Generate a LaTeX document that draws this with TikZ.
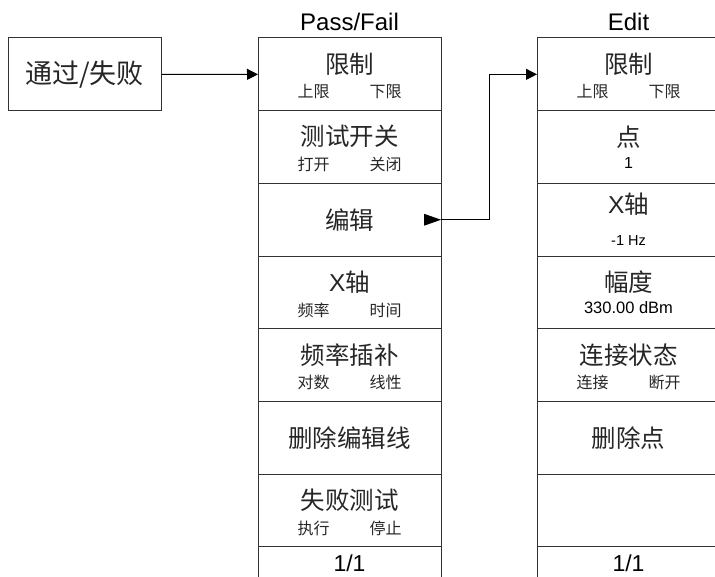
\documentclass[tikz,border=0pt]{standalone}
\usepackage{fontspec}
\setmainfont{Liberation Sans}
\newfontfamily\cjk{Noto Sans CJK SC}
\usetikzlibrary{arrows.meta,calc}
\tikzset{
  cell/.style={draw=black!80, line width=1pt, minimum width=183pt, minimum height=72.7pt, inner sep=0pt, outer sep=0pt, anchor=north west},
  mainlbl/.style={font=\fontsize{24.5}{28}\selectfont\cjk, inner sep=0pt, text=black!85},
  sublbl/.style={font=\fontsize{16}{19}\selectfont\cjk, inner sep=0pt, text=black!85},
  latsub/.style={font=\fontsize{16}{19}\selectfont, inner sep=0pt},
  titlelbl/.style={font=\fontsize{24}{28}\selectfont, inner sep=0pt},
  pagelbl/.style={font=\fontsize{23}{27}\selectfont, inner sep=0pt},
  conn/.style={draw=black, line width=1pt},
  headtip/.style={-{Triangle[length=11pt,width=11pt]}},
}
\begin{document}
\begin{tikzpicture}[x=1pt,y=-1pt]
\useasboundingbox (0,0) rectangle (715,577);
\clip (0,0) rectangle (715,577);

% left box
\node[draw=black!80, line width=1pt, minimum width=153pt, minimum height=73pt, inner sep=0pt,
      font=\fontsize{27}{30}\selectfont\cjk, text=black!85] (pf) at (84.5,74.5) {通过/失败};

% titles
\node[titlelbl] (t1) at (349.5,22) {Pass/Fail};
\node[titlelbl] (t2) at (628.5,22) {Edit};

% column cells
\foreach \i in {1,...,8} {
  \node[cell] (p\i) at (258,{38+72.7*(\i-1)}) {};
  \node[cell] (e\i) at (537,{38+72.7*(\i-1)}) {};
}

% column 1 labels
\node[mainlbl] (p1m) at ($(p1.north)+(0,26)$) {限制};
\node[sublbl] (p1a) at ($(p1.north)+(-36,54)$) {上限};
\node[sublbl] (p1b) at ($(p1.north)+(36,54)$) {下限};

\node[mainlbl] (p2m) at ($(p2.north)+(0,26)$) {测试开关};
\node[sublbl] (p2a) at ($(p2.north)+(-36,54)$) {打开};
\node[sublbl] (p2b) at ($(p2.north)+(36,54)$) {关闭};

\node[mainlbl] (p3m) at (p3.center) {编辑};

\node[mainlbl] (p4m) at ($(p4.north)+(0,26)$) {{\rmfamily X}轴};
\node[sublbl] (p4a) at ($(p4.north)+(-36,54)$) {频率};
\node[sublbl] (p4b) at ($(p4.north)+(36,54)$) {时间};

\node[mainlbl] (p5m) at ($(p5.north)+(0,26)$) {频率插补};
\node[sublbl] (p5a) at ($(p5.north)+(-36,54)$) {对数};
\node[sublbl] (p5b) at ($(p5.north)+(36,54)$) {线性};

\node[mainlbl] (p6m) at (p6.center) {删除编辑线};

\node[mainlbl] (p7m) at ($(p7.north)+(0,26)$) {失败测试};
\node[sublbl] (p7a) at ($(p7.north)+(-36,54)$) {执行};
\node[sublbl] (p7b) at ($(p7.north)+(36,54)$) {停止};

\node[pagelbl] (p8m) at ($(p8.north)+(0,16)$) {1/1};

% column 2 labels
\node[mainlbl] (e1m) at ($(e1.north)+(0,26)$) {限制};
\node[sublbl] (e1a) at ($(e1.north)+(-36,54)$) {上限};
\node[sublbl] (e1b) at ($(e1.north)+(36,54)$) {下限};

\node[mainlbl] (e2m) at ($(e2.north)+(0,26)$) {点};
\node[latsub] (e2s) at ($(e2.north)+(0,52)$) {1};

\node[mainlbl] (e3m) at ($(e3.north)+(0,21)$) {{\rmfamily X}轴};
\node[latsub, font=\fontsize{14.5}{17}\selectfont] (e3s) at ($(e3.north)+(0,57)$) {-1 Hz};

\node[mainlbl] (e4m) at ($(e4.north)+(0,26)$) {幅度};
\node[latsub, font=\fontsize{16.5}{19}\selectfont] (e4s) at ($(e4.north)+(0,52)$) {330.00 dBm};

\node[mainlbl] (e5m) at ($(e5.north)+(0,26)$) {连接状态};
\node[sublbl] (e5a) at ($(e5.north)+(-36,54)$) {连接};
\node[sublbl] (e5b) at ($(e5.north)+(36,54)$) {断开};

\node[mainlbl] (e6m) at (e6.center) {删除点};

\node[pagelbl] (e8m) at ($(e8.north)+(0,16)$) {1/1};

% connectors
\draw[conn, headtip] (pf.east) -- (p1.west);
\fill[black] ($(p3.east)+(-17,-6)$) -- (p3.east) -- ($(p3.east)+(-17,6)$) -- cycle;
\draw[conn, headtip] (p3.east) -- ++(48,0) |- (e1.west);
\end{tikzpicture}
\end{document}
